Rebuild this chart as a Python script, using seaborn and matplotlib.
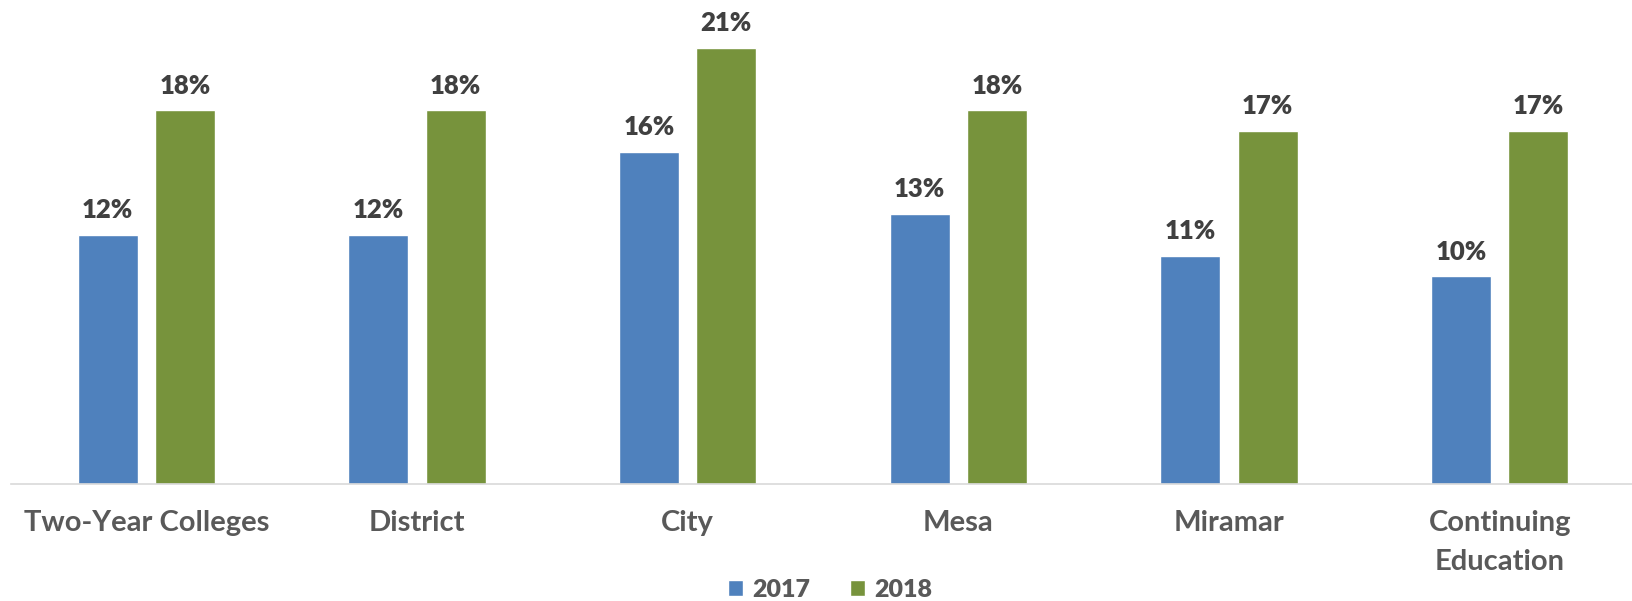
import matplotlib
matplotlib.use("Agg")
import matplotlib.pyplot as plt
import pandas as pd
import seaborn as sns

# 数据
categories = ["Two-Year Colleges", "District", "City", "Mesa", "Miramar", "Continuing\nEducation"]
years = ["2017", "2018"]
values_2017 = [12, 12, 16, 13, 11, 10]
values_2018 = [18, 18, 21, 18, 17, 17]
colors = ["#4F81BD", "#77933C"]

df = pd.DataFrame({
    "category": categories * 2,
    "year": [years[0]] * len(categories) + [years[1]] * len(categories),
    "value": values_2017 + values_2018,
})

sns.set_theme(style="white")
plt.rcParams["font.family"] = ["Lato", "DejaVu Sans"]
plt.rcParams["font.weight"] = "bold"

fig = plt.figure(figsize=(16.33, 6.01), dpi=100)
ax = fig.add_axes([11 / 1633, 117 / 601, 1624 / 1633, 457 / 601])

sns.barplot(
    data=df, x="category", y="value", hue="year",
    palette=colors, saturation=1, width=0.571, gap=0.223,
    errorbar=None, ax=ax, legend=True,
)

# 数值标签
for cont in ax.containers:
    ax.bar_label(cont, fmt="%d%%", padding=9, fontsize=18.5,
                 fontweight="heavy", color="#404040", clip_on=False)

ax.set_xlim(-0.5, 5.5)
ax.set_ylim(0, 22)
ax.set_xlabel("")
ax.set_ylabel("")
ax.set_yticks([])
for s in ["top", "right", "left"]:
    ax.spines[s].set_visible(False)
ax.spines["bottom"].set_color("#D9D9D9")
ax.spines["bottom"].set_linewidth(1.2)
ax.tick_params(axis="x", length=0, pad=19, labelsize=21, labelcolor="#595959")
for t in ax.get_xticklabels():
    t.set_fontweight("bold")
    t.set_linespacing(1.6)

# 图例
handles, labels = ax.get_legend_handles_labels()
ax.get_legend().remove()
leg = fig.legend(
    handles, labels, loc="center", bbox_to_anchor=(830 / 1633, 11 / 601),
    ncol=2, frameon=False, prop={"size": 18, "weight": "heavy"},
    handlelength=0.62, handleheight=0.62,
    handletextpad=0.35, columnspacing=1.6, borderaxespad=0, borderpad=0,
)
for t in leg.get_texts():
    t.set_color("#595959")
    t.set_fontweight("heavy")

fig.savefig("out.png", dpi=100)
